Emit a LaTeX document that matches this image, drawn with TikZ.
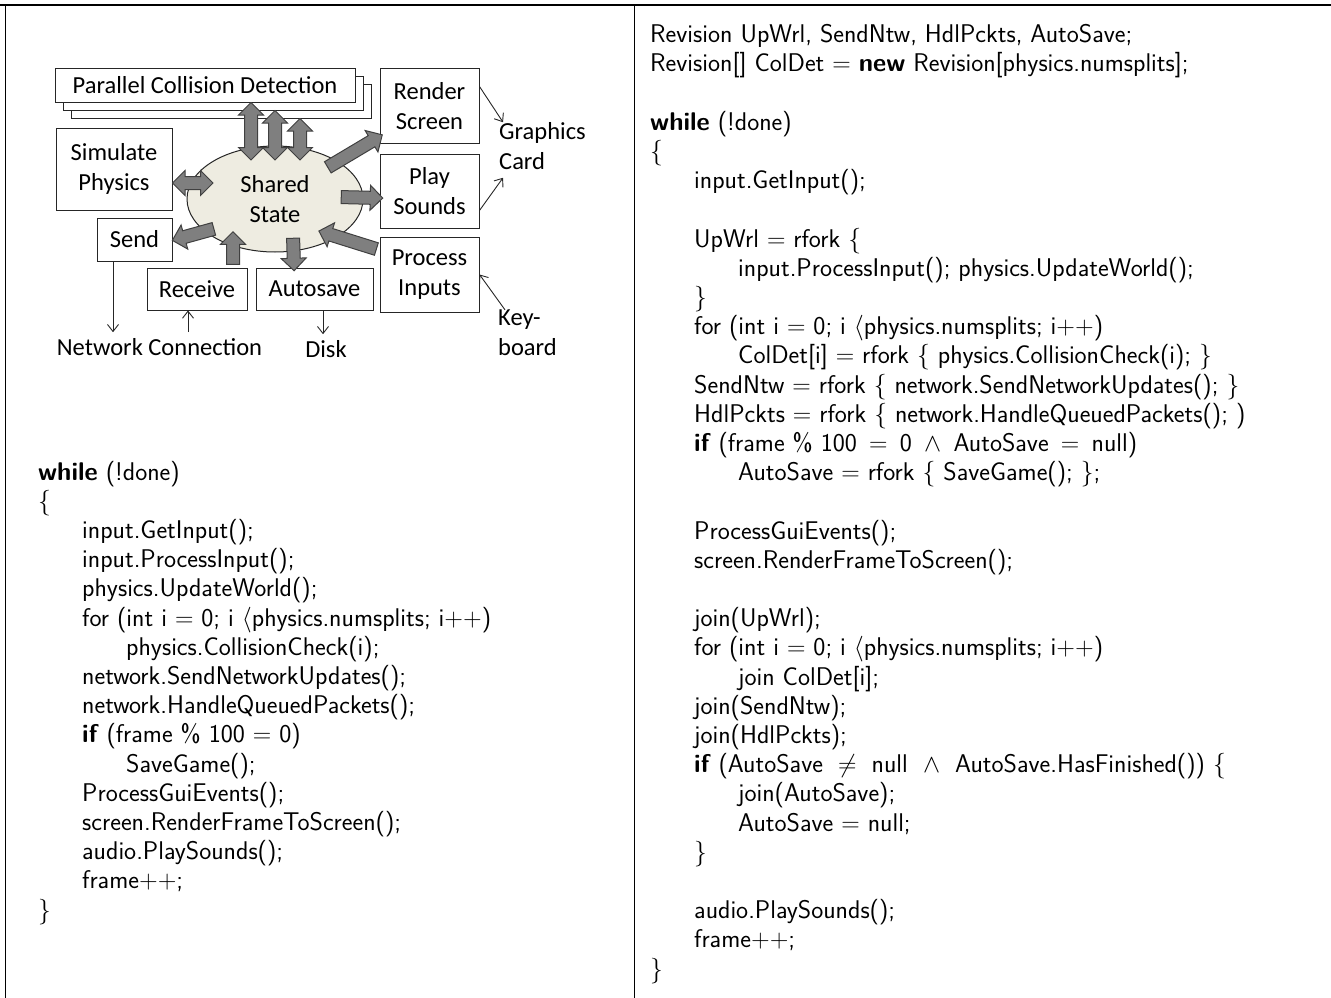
\RequirePackage{fix-cm}
\documentclass[tikz,border=0pt]{standalone}
\usepackage{amsmath}
\usepackage{fontspec}
\newfontfamily\calibri{Carlito}
\usetikzlibrary{shapes.geometric,shapes.arrows,arrows.meta,positioning,calc}

\definecolor{statefill}{HTML}{EEECE1}
\definecolor{blockgray}{HTML}{7F7F7F}
\definecolor{blockedge}{HTML}{404040}

\newcommand{\diagfont}{\calibri\fontsize{24.5}{30}\selectfont}
\newcommand{\codefont}{\sffamily\fontsize{25.6}{29.2}\selectfont}
\newcommand{\tb}{\hspace*{44pt}}

% fat block arrow between two points, tip at the second one
\newcommand{\fatarrow}[4]{%
  \path #3 coordinate (#1-from) #4 coordinate (#1-to);
  \path let \p1=($(#1-to)-(#1-from)$), \n1={veclen(\x1,\y1)} in
    (#1-from) -- (#1-to) node[fatarr, #2, midway, sloped, allow upside down,
      minimum height=\n1] (#1) {};}

\tikzset{
  box/.style={draw=black!85, line width=1pt, fill=white, inner sep=0pt,
    align=center, font=\diagfont},
  lbl/.style={inner sep=0pt, font=\diagfont},
  thinarr/.style={line width=0.9pt, draw=black!85,
    -{Straight Barb[length=7pt,width=11pt]}},
  fatarr/.style={draw=blockedge, fill=blockgray, line width=1pt,
    inner sep=0pt, inner ysep=6pt, minimum width=1pt,
    single arrow head extend=6pt, double arrow head extend=6pt},
  % anchored at the baseline of the last line
  code/.style={align=left, inner sep=0pt, font=\codefont, anchor=base west}
}

\begin{document}
\begin{tikzpicture}[x=1pt,y=-1pt]
  \useasboundingbox (0,0) rectangle (1331,998);

  % frame
  \draw[line width=1.6pt] (0,5) -- (1331,5);
  \draw[line width=1pt] (5.5,5) -- (5.5,998);
  \draw[line width=1pt] (634,5) -- (634,998);

  % task boxes
  \node[box, minimum width=300pt, minimum height=33pt] (pcd3) at (221,101.5) {};
  \node[box, minimum width=300pt, minimum height=33pt] (pcd2) at (213,93.5) {};
  \node[box, minimum width=300pt, minimum height=33pt] (pcd1) at (205,85.5)
    {Parallel Collision Detection};
  \node[box, minimum width=99pt, minimum height=74pt] (render) at (429.5,106)
    {Render\\Screen};
  \node[box, minimum width=99pt, minimum height=74pt, below=10pt of render]
    (sounds) {Play\\Sounds};
  \node[box, minimum width=99pt, minimum height=75pt, below=8pt of sounds]
    (inputs) {Process\\Inputs};
  \node[box, minimum width=116pt, minimum height=82pt] (physics) at (114,169)
    {Simulate\\Physics};
  \node[box, minimum width=75pt, minimum height=43pt] (send) at (134.5,239.5)
    {Send};
  \node[box, minimum width=100pt, minimum height=42pt] (recv) at (197,289)
    {Receive};
  \node[box, minimum width=117pt, minimum height=42pt, right=8pt of recv]
    (autosave) {Autosave};
  \node[ellipse, draw=black!85, line width=1pt, fill=statefill, align=center,
    font=\diagfont, inner sep=0pt, minimum width=176pt, minimum height=106pt]
    (ss) at (275,199) {Shared\\State};

  % outside world
  \node[lbl, align=left, anchor=west] (gfx) at (499,146) {Graphics\\Card};
  \node[lbl] (net) at (159.5,347) {Network Connection};
  \node[lbl] (disk) at (326,349) {Disk};
  \node[lbl, align=left, anchor=west] (kbd) at (498,333) {Key-\\board};

  % data flow to and from the shared state
  \fatarrow{cd1}{double arrow}{([xshift=46pt]pcd1.south)}{($(ss.center)+(-24,-39)$)}
  \fatarrow{cd2}{double arrow}{([xshift=62pt]pcd2.south)}{($(ss.center)+(0,-39)$)}
  \fatarrow{cd3}{double arrow}{([xshift=79pt]pcd3.south)}{($(ss.center)+(25,-39)$)}
  \fatarrow{phy}{double arrow}{([yshift=-14pt]physics.east)}{($(ss.center)+(-62,-16)$)}
  \fatarrow{toren}{single arrow}{($(ss.center)+(50,-30)$)}{([yshift=7pt]render.south west)}
  \fatarrow{tosnd}{single arrow}{($(ss.center)+(63,-2)$)}{([yshift=-7pt]sounds.west)}
  \fatarrow{frinp}{single arrow}{([yshift=24.5pt]inputs.west)}{($(ss.center)+(47,33)$)}
  \fatarrow{tosend}{single arrow}{($(ss.center)+(-58,29)$)}{([xshift=3pt]send.east)}
  \fatarrow{frrecv}{single arrow}{([xshift=36pt]recv.north)}{($(ss.center)+(-42,36)$)}
  \fatarrow{tosave}{single arrow}{($(ss.center)+(18,36)$)}{([xshift=-20.5pt]autosave.north)}

  % devices
  \draw[thinarr] ([yshift=-18pt]render.north east) -- ([xshift=4pt]gfx.north west);
  \draw[thinarr] ([yshift=18pt]sounds.south east) -- ([xshift=4pt,yshift=-8pt]gfx.south west);
  \draw[thinarr] ([xshift=7pt]kbd.north west) -- (inputs.east);
  \draw[thinarr] ([xshift=-21.5pt]send.south) coordinate (sendout)
    -- ([yshift=6pt]sendout |- net.north);
  \draw[thinarr] ([xshift=-9pt,yshift=6pt]recv.south |- net.north) -- ([xshift=-9pt]recv.south);
  \draw[thinarr] ([xshift=8.5pt]autosave.south) coordinate (saveout)
    -- ([yshift=6pt]saveout |- disk.north);

  % sequential game loop
  \node[code] (oldloop) at (38,918) {%
    \textbf{while} (!done)\\
    $\{$\\
    \tb input.GetInput();\\
    \tb input.ProcessInput();\\
    \tb physics.UpdateWorld();\\
    \tb for (int i $=$ 0; i $\langle$physics.numsplits; i++)\\
    \tb\tb physics.CollisionCheck(i);\\
    \tb network.SendNetworkUpdates();\\
    \tb network.HandleQueuedPackets();\\
    \tb \textbf{if} (frame \% 100 $=$ 0)\\
    \tb\tb SaveGame();\\
    \tb ProcessGuiEvents();\\
    \tb screen.RenderFrameToScreen();\\
    \tb audio.PlaySounds();\\
    \tb frame++;\\
    $\}$};

  % parallel game loop with revisions
  \node[code] (newloop) at (650,977) {%
    Revision UpWrl, SendNtw, HdlPckts, AutoSave;\\
    Revision[] ColDet $=$ \textbf{new} Revision[physics.numsplits];\\
    ~\\
    \textbf{while} (!done)\\
    $\{$\\
    \tb input.GetInput();\\
    ~\\
    \tb UpWrl $=$ rfork $\{$\\
    \tb\tb input.ProcessInput(); physics.UpdateWorld();\\
    \tb $\}$\\
    \tb for (int i $=$ 0; i $\langle$physics.numsplits; i++)\\
    \tb\tb ColDet[i] $=$ rfork $\{$ physics.CollisionCheck(i); $\}$\\
    \tb SendNtw $=$ rfork $\{$ network.SendNetworkUpdates(); $\}$\\
    \tb HdlPckts $=$ rfork $\{$ network.HandleQueuedPackets(); )\\
    \tb \textbf{if} (frame \% 100 $\,=\,$ 0 $\,\wedge\,$ AutoSave $\,=\,$ null)\\
    \tb\tb AutoSave $=$ rfork $\{$ SaveGame(); $\}$;\\
    ~\\
    \tb ProcessGuiEvents();\\
    \tb screen.RenderFrameToScreen();\\
    ~\\
    \tb join(UpWrl);\\
    \tb for (int i $=$ 0; i $\langle$physics.numsplits; i++)\\
    \tb\tb join ColDet[i];\\
    \tb join(SendNtw);\\
    \tb join(HdlPckts);\\
    \tb \textbf{if} (AutoSave $\;\neq\;$ null $\;\wedge\;$ AutoSave.HasFinished()) $\{$\\
    \tb\tb join(AutoSave);\\
    \tb\tb AutoSave $=$ null;\\
    \tb $\}$\\
    ~\\
    \tb audio.PlaySounds();\\
    \tb frame++;\\
    $\}$};
\end{tikzpicture}
\end{document}
